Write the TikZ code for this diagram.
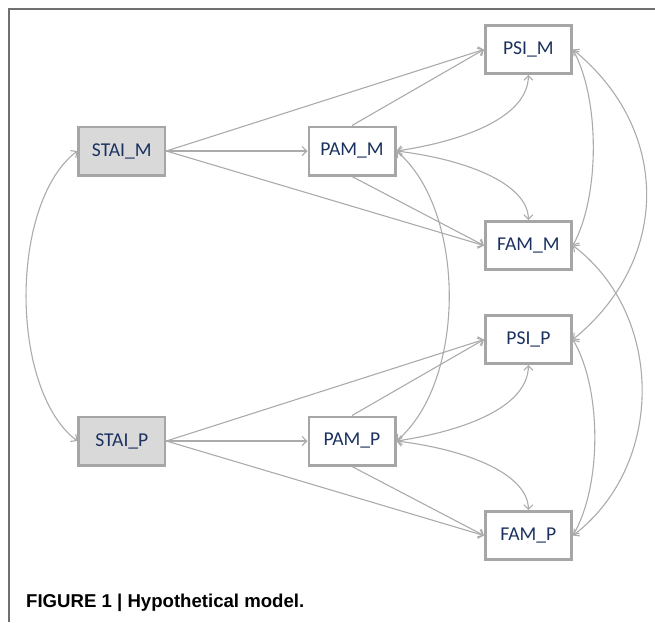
\documentclass[tikz,border=0pt]{standalone}
\usepackage{fontspec}
\newfontfamily\boxfont{Carlito}
\newfontfamily\capfont{Liberation Sans}
\usetikzlibrary{arrows.meta}
\definecolor{boxline}{HTML}{A6A6A6}
\definecolor{conn}{HTML}{ABABAB}
\definecolor{boxfill}{HTML}{D9D9D9}
\definecolor{boxtext}{HTML}{1B3260}
\definecolor{framecol}{HTML}{707070}
\begin{document}
\begin{tikzpicture}[x=1pt,y=-1pt,
  var/.style={draw=boxline, line width=2.6pt, fill=white, minimum width=86.4pt,
    minimum height=48.4pt, inner sep=0pt, text=boxtext,
    font=\boxfont\fontsize{19.6}{22}\selectfont},
  exo/.style={var, fill=boxfill},
  tipb/.tip={Straight Barb[length=4.5pt,width=9pt]},
  regr/.style={draw=conn, line width=1.1pt, -tipb},
  cov/.style={draw=conn, line width=1.1pt, tipb-tipb},
]
\useasboundingbox (0,0) rectangle (655,622);
\draw[framecol, line width=1.2pt] (655,9) -- (9,9) -- (9,622);

% nodes
\node[exo] (stm) at (121.8,151) {STAI\_M};
\node[var] (pam) at (352,151) {PAM\_M};
\node[var] (psm) at (528.4,49.5) {PSI\_M};
\node[var] (fam) at (528.4,245.5) {FAM\_M};
\node[exo] (stp) at (121.8,441) {STAI\_P};
\node[var] (pap) at (352,441) {PAM\_P};
\node[var] (psp) at (528.4,339.5) {PSI\_P};
\node[var] (fap) at (528.4,535.5) {FAM\_P};

% regressions M
\draw[regr] (stm.east) -- (psm.west);
\draw[regr] (stm.east) -- (pam.west);
\draw[regr] (stm.east) -- (fam.west);
\draw[regr] (pam.north) -- (psm.west);
\draw[regr] (pam.south) -- (fam.west);
% regressions P
\draw[regr] (stp.east) -- (psp.west);
\draw[regr] (stp.east) -- (pap.west);
\draw[regr] (stp.east) -- (fap.west);
\draw[regr] (pap.north) -- (psp.west);
\draw[regr] (pap.south) -- (fap.west);

% covariances within M
\draw[cov] (pam.east) .. controls (470,140) and (528,115) .. (psm.south);
\draw[cov] (pam.east) .. controls (470,160) and (528,185) .. (fam.north);
\draw[cov] (psm.east) .. controls +(27,50) and +(27,-50) .. (fam.east);
% covariances within P
\draw[cov] (pap.east) .. controls (470,430) and (528,405) .. (psp.south);
\draw[cov] (pap.east) .. controls (470,450) and (528,475) .. (fap.north);
\draw[cov] (psp.east) .. controls +(29,50) and +(29,-50) .. (fap.east);

% covariances across
\draw[cov] (stm.west) .. controls +(-68,52) and +(-68,-52) .. (stp.west);
\draw[cov] (pam.east) .. controls +(70,60) and +(70,-60) .. (pap.east);
\draw[cov] (psm.east) .. controls +(98,80) and +(98,-80) .. (psp.east);
\draw[cov] (fam.east) .. controls +(92,70) and +(92,-70) .. (fap.east);

% caption
\node[anchor=base west, inner sep=0pt, font=\capfont\bfseries\fontsize{18.6}{22}\selectfont]
  (cap) at (26,607) {FIGURE 1 | Hypothetical model.};
\end{tikzpicture}
\end{document}
